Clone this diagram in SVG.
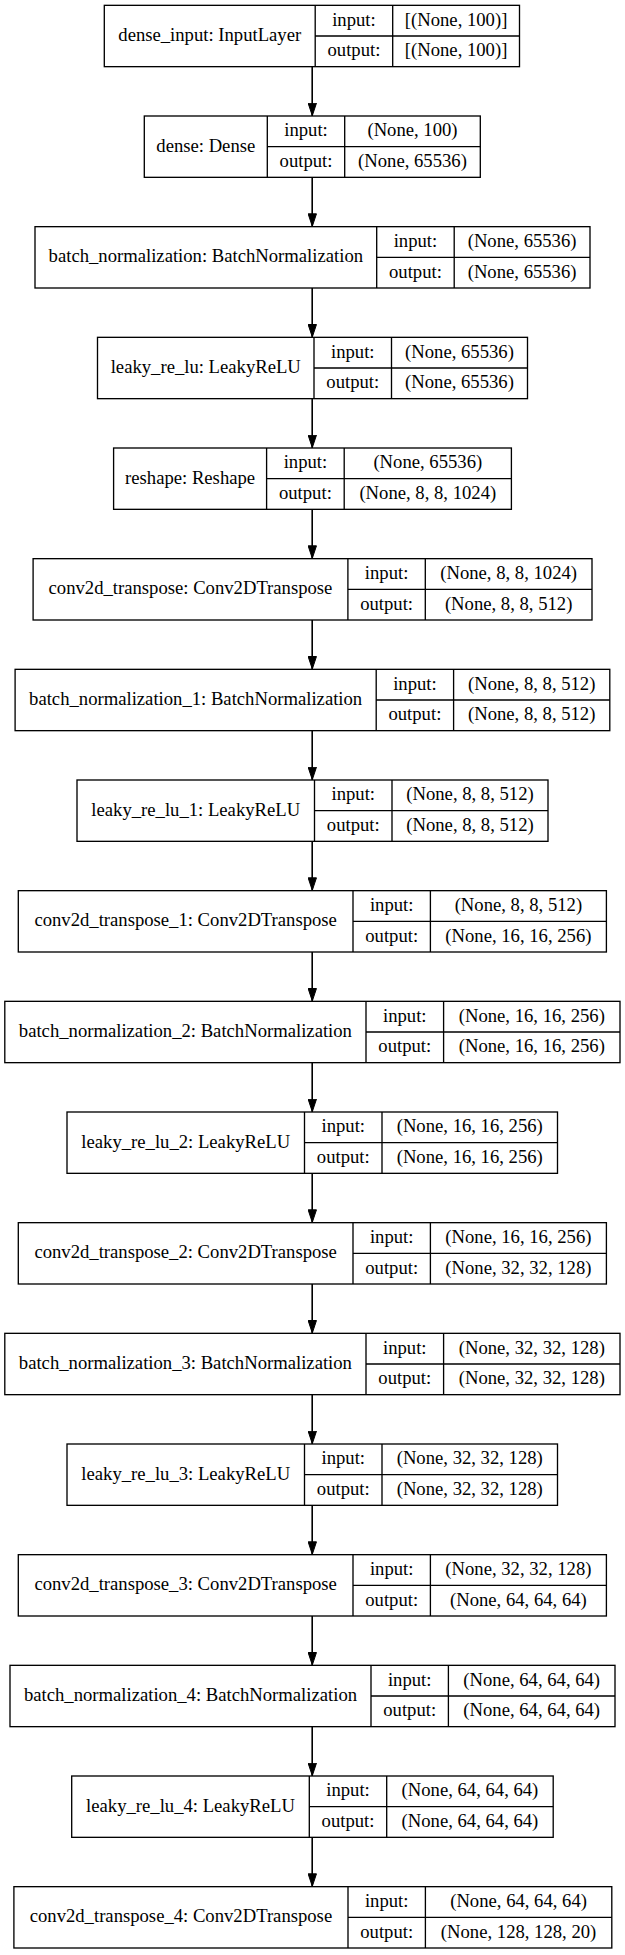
<svg xmlns="http://www.w3.org/2000/svg" width="625" height="1955" viewBox="0 0 625 1955">
<style>
.node rect{fill:#fff;stroke:#000;stroke-width:1.33}
.node path{fill:none;stroke:#000;stroke-width:1.33}
.node text{font-family:"Liberation Serif","Times New Roman",serif;font-size:18.67px;fill:#000;text-anchor:middle}
.edges line{stroke:#000;stroke-width:1.33}
</style>
<defs>
<marker id="arr" viewBox="0 0 13.33 9.33" refX="13.33" refY="4.665" markerWidth="13.33" markerHeight="9.33" markerUnits="userSpaceOnUse" orient="auto">
<path d="M0.5,0.5 L13,4.665 L0.5,8.83 z" fill="#000" stroke="#000" stroke-width="1"/>
</marker>
</defs>
<rect width="625" height="1955" fill="#fff"/>
<g class="edges">
<line x1="312.3" y1="66.67" x2="312.3" y2="116"/>
<line x1="312.3" y1="177.33" x2="312.3" y2="226.67"/>
<line x1="312.3" y1="288" x2="312.3" y2="337.33"/>
<line x1="312.3" y1="398.67" x2="312.3" y2="448"/>
<line x1="312.3" y1="509.33" x2="312.3" y2="558.67"/>
<line x1="312.3" y1="620" x2="312.3" y2="669.33"/>
<line x1="312.3" y1="730.67" x2="312.3" y2="780"/>
<line x1="312.3" y1="841.33" x2="312.3" y2="890.67"/>
<line x1="312.3" y1="952" x2="312.3" y2="1001.33"/>
<line x1="312.3" y1="1062.67" x2="312.3" y2="1112"/>
<line x1="312.3" y1="1173.33" x2="312.3" y2="1222.67"/>
<line x1="312.3" y1="1284" x2="312.3" y2="1333.33"/>
<line x1="312.3" y1="1394.67" x2="312.3" y2="1444"/>
<line x1="312.3" y1="1505.33" x2="312.3" y2="1554.67"/>
<line x1="312.3" y1="1616" x2="312.3" y2="1665.33"/>
<line x1="312.3" y1="1726.67" x2="312.3" y2="1776"/>
<line x1="312.3" y1="1837.33" x2="312.3" y2="1886.67"/>
</g>
<g class="edges" style="marker-end:url(#arr)">
<line x1="312.3" y1="66.67" x2="312.3" y2="116"/>
<line x1="312.3" y1="177.33" x2="312.3" y2="226.67"/>
<line x1="312.3" y1="288" x2="312.3" y2="337.33"/>
<line x1="312.3" y1="398.67" x2="312.3" y2="448"/>
<line x1="312.3" y1="509.33" x2="312.3" y2="558.67"/>
<line x1="312.3" y1="620" x2="312.3" y2="669.33"/>
<line x1="312.3" y1="730.67" x2="312.3" y2="780"/>
<line x1="312.3" y1="841.33" x2="312.3" y2="890.67"/>
<line x1="312.3" y1="952" x2="312.3" y2="1001.33"/>
<line x1="312.3" y1="1062.67" x2="312.3" y2="1112"/>
<line x1="312.3" y1="1173.33" x2="312.3" y2="1222.67"/>
<line x1="312.3" y1="1284" x2="312.3" y2="1333.33"/>
<line x1="312.3" y1="1394.67" x2="312.3" y2="1444"/>
<line x1="312.3" y1="1505.33" x2="312.3" y2="1554.67"/>
<line x1="312.3" y1="1616" x2="312.3" y2="1665.33"/>
<line x1="312.3" y1="1726.67" x2="312.3" y2="1776"/>
<line x1="312.3" y1="1837.33" x2="312.3" y2="1886.67"/>
</g>

<g id="node-dense_input" class="node" transform="translate(0,5.33)">
<rect x="104.3" y="0" width="415.2" height="61.33"/>
<path d="M315.2,0V61.33M392.7,0V61.33M315.2,30.67H519.5"/>
<text x="209.75" y="35.6">dense_input: InputLayer</text>
<text x="353.95" y="20.3">input:</text>
<text x="353.95" y="51">output:</text>
<text x="456.1" y="20.3">[(None, 100)]</text>
<text x="456.1" y="51">[(None, 100)]</text>
</g>

<g id="node-dense" class="node" transform="translate(0,116)">
<rect x="144.3" y="0" width="336" height="61.33"/>
<path d="M267.3,0V61.33M344.7,0V61.33M267.3,30.67H480.3"/>
<text x="205.8" y="35.6">dense: Dense</text>
<text x="306" y="20.3">input:</text>
<text x="306" y="51">output:</text>
<text x="412.5" y="20.3">(None, 100)</text>
<text x="412.5" y="51">(None, 65536)</text>
</g>

<g id="node-batch_normalization" class="node" transform="translate(0,226.67)">
<rect x="35" y="0" width="555" height="61.33"/>
<path d="M376.7,0V61.33M454.2,0V61.33M376.7,30.67H590"/>
<text x="205.85" y="35.6">batch_normalization: BatchNormalization</text>
<text x="415.45" y="20.3">input:</text>
<text x="415.45" y="51">output:</text>
<text x="522.1" y="20.3">(None, 65536)</text>
<text x="522.1" y="51">(None, 65536)</text>
</g>

<g id="node-leaky_re_lu" class="node" transform="translate(0,337.33)">
<rect x="97.5" y="0" width="430" height="61.33"/>
<path d="M314,0V61.33M391.5,0V61.33M314,30.67H527.5"/>
<text x="205.75" y="35.6">leaky_re_lu: LeakyReLU</text>
<text x="352.75" y="20.3">input:</text>
<text x="352.75" y="51">output:</text>
<text x="459.5" y="20.3">(None, 65536)</text>
<text x="459.5" y="51">(None, 65536)</text>
</g>

<g id="node-reshape" class="node" transform="translate(0,448)">
<rect x="113.6" y="0" width="397.8" height="61.33"/>
<path d="M266.6,0V61.33M344.2,0V61.33M266.6,30.67H511.4"/>
<text x="190.1" y="35.6">reshape: Reshape</text>
<text x="305.4" y="20.3">input:</text>
<text x="305.4" y="51">output:</text>
<text x="427.8" y="20.3">(None, 65536)</text>
<text x="427.8" y="51">(None, 8, 8, 1024)</text>
</g>

<g id="node-conv2d_transpose" class="node" transform="translate(0,558.67)">
<rect x="33.1" y="0" width="558.9" height="61.33"/>
<path d="M347.9,0V61.33M425.3,0V61.33M347.9,30.67H592"/>
<text x="190.5" y="35.6">conv2d_transpose: Conv2DTranspose</text>
<text x="386.6" y="20.3">input:</text>
<text x="386.6" y="51">output:</text>
<text x="508.65" y="20.3">(None, 8, 8, 1024)</text>
<text x="508.65" y="51">(None, 8, 8, 512)</text>
</g>

<g id="node-batch_normalization_1" class="node" transform="translate(0,669.33)">
<rect x="15.1" y="0" width="594.7" height="61.33"/>
<path d="M376.2,0V61.33M453.6,0V61.33M376.2,30.67H609.8"/>
<text x="195.65" y="35.6">batch_normalization_1: BatchNormalization</text>
<text x="414.9" y="20.3">input:</text>
<text x="414.9" y="51">output:</text>
<text x="531.7" y="20.3">(None, 8, 8, 512)</text>
<text x="531.7" y="51">(None, 8, 8, 512)</text>
</g>

<g id="node-leaky_re_lu_1" class="node" transform="translate(0,780)">
<rect x="77" y="0" width="471" height="61.33"/>
<path d="M314.5,0V61.33M392,0V61.33M314.5,30.67H548"/>
<text x="195.75" y="35.6">leaky_re_lu_1: LeakyReLU</text>
<text x="353.25" y="20.3">input:</text>
<text x="353.25" y="51">output:</text>
<text x="470" y="20.3">(None, 8, 8, 512)</text>
<text x="470" y="51">(None, 8, 8, 512)</text>
</g>

<g id="node-conv2d_transpose_1" class="node" transform="translate(0,890.67)">
<rect x="18.3" y="0" width="588.1" height="61.33"/>
<path d="M353,0V61.33M430.4,0V61.33M353,30.67H606.4"/>
<text x="185.65" y="35.6">conv2d_transpose_1: Conv2DTranspose</text>
<text x="391.7" y="20.3">input:</text>
<text x="391.7" y="51">output:</text>
<text x="518.4" y="20.3">(None, 8, 8, 512)</text>
<text x="518.4" y="51">(None, 16, 16, 256)</text>
</g>

<g id="node-batch_normalization_2" class="node" transform="translate(0,1001.33)">
<rect x="4.8" y="0" width="615.2" height="61.33"/>
<path d="M366,0V61.33M443.6,0V61.33M366,30.67H620"/>
<text x="185.4" y="35.6">batch_normalization_2: BatchNormalization</text>
<text x="404.8" y="20.3">input:</text>
<text x="404.8" y="51">output:</text>
<text x="531.8" y="20.3">(None, 16, 16, 256)</text>
<text x="531.8" y="51">(None, 16, 16, 256)</text>
</g>

<g id="node-leaky_re_lu_2" class="node" transform="translate(0,1112)">
<rect x="67" y="0" width="490.5" height="61.33"/>
<path d="M304.5,0V61.33M382,0V61.33M304.5,30.67H557.5"/>
<text x="185.75" y="35.6">leaky_re_lu_2: LeakyReLU</text>
<text x="343.25" y="20.3">input:</text>
<text x="343.25" y="51">output:</text>
<text x="469.75" y="20.3">(None, 16, 16, 256)</text>
<text x="469.75" y="51">(None, 16, 16, 256)</text>
</g>

<g id="node-conv2d_transpose_2" class="node" transform="translate(0,1222.67)">
<rect x="18.3" y="0" width="588.1" height="61.33"/>
<path d="M353,0V61.33M430.4,0V61.33M353,30.67H606.4"/>
<text x="185.65" y="35.6">conv2d_transpose_2: Conv2DTranspose</text>
<text x="391.7" y="20.3">input:</text>
<text x="391.7" y="51">output:</text>
<text x="518.4" y="20.3">(None, 16, 16, 256)</text>
<text x="518.4" y="51">(None, 32, 32, 128)</text>
</g>

<g id="node-batch_normalization_3" class="node" transform="translate(0,1333.33)">
<rect x="4.8" y="0" width="615.2" height="61.33"/>
<path d="M366,0V61.33M443.6,0V61.33M366,30.67H620"/>
<text x="185.4" y="35.6">batch_normalization_3: BatchNormalization</text>
<text x="404.8" y="20.3">input:</text>
<text x="404.8" y="51">output:</text>
<text x="531.8" y="20.3">(None, 32, 32, 128)</text>
<text x="531.8" y="51">(None, 32, 32, 128)</text>
</g>

<g id="node-leaky_re_lu_3" class="node" transform="translate(0,1444)">
<rect x="67" y="0" width="490.5" height="61.33"/>
<path d="M304.5,0V61.33M382,0V61.33M304.5,30.67H557.5"/>
<text x="185.75" y="35.6">leaky_re_lu_3: LeakyReLU</text>
<text x="343.25" y="20.3">input:</text>
<text x="343.25" y="51">output:</text>
<text x="469.75" y="20.3">(None, 32, 32, 128)</text>
<text x="469.75" y="51">(None, 32, 32, 128)</text>
</g>

<g id="node-conv2d_transpose_3" class="node" transform="translate(0,1554.67)">
<rect x="18.3" y="0" width="588.1" height="61.33"/>
<path d="M353,0V61.33M430.4,0V61.33M353,30.67H606.4"/>
<text x="185.65" y="35.6">conv2d_transpose_3: Conv2DTranspose</text>
<text x="391.7" y="20.3">input:</text>
<text x="391.7" y="51">output:</text>
<text x="518.4" y="20.3">(None, 32, 32, 128)</text>
<text x="518.4" y="51">(None, 64, 64, 64)</text>
</g>

<g id="node-batch_normalization_4" class="node" transform="translate(0,1665.33)">
<rect x="10" y="0" width="605" height="61.33"/>
<path d="M371,0V61.33M448.4,0V61.33M371,30.67H615"/>
<text x="190.5" y="35.6">batch_normalization_4: BatchNormalization</text>
<text x="409.7" y="20.3">input:</text>
<text x="409.7" y="51">output:</text>
<text x="531.7" y="20.3">(None, 64, 64, 64)</text>
<text x="531.7" y="51">(None, 64, 64, 64)</text>
</g>

<g id="node-leaky_re_lu_4" class="node" transform="translate(0,1776)">
<rect x="71.7" y="0" width="481.5" height="61.33"/>
<path d="M309.3,0V61.33M386.7,0V61.33M309.3,30.67H553.2"/>
<text x="190.5" y="35.6">leaky_re_lu_4: LeakyReLU</text>
<text x="348" y="20.3">input:</text>
<text x="348" y="51">output:</text>
<text x="469.95" y="20.3">(None, 64, 64, 64)</text>
<text x="469.95" y="51">(None, 64, 64, 64)</text>
</g>

<g id="node-conv2d_transpose_4" class="node" transform="translate(0,1886.67)">
<rect x="13.9" y="0" width="597.9" height="61.33"/>
<path d="M348,0V61.33M425.4,0V61.33M348,30.67H611.8"/>
<text x="180.95" y="35.6">conv2d_transpose_4: Conv2DTranspose</text>
<text x="386.7" y="20.3">input:</text>
<text x="386.7" y="51">output:</text>
<text x="518.6" y="20.3">(None, 64, 64, 64)</text>
<text x="518.6" y="51">(None, 128, 128, 20)</text>
</g>
</svg>
